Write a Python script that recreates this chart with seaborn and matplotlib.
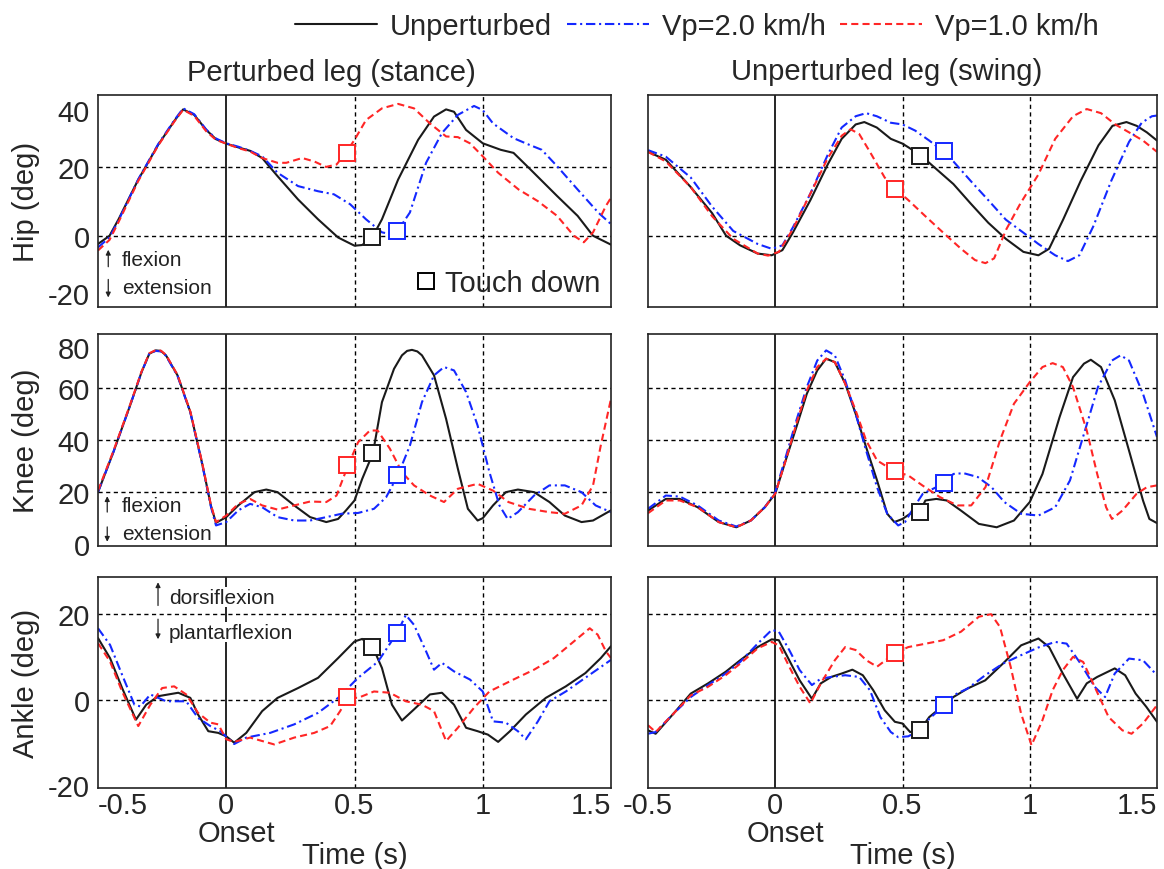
import numpy as np
import pandas as pd
import matplotlib
matplotlib.use("Agg")
import matplotlib.pyplot as plt
from matplotlib.lines import Line2D
from matplotlib import transforms
import seaborn as sns

# ---------------- data ----------------
CONDITIONS = ["Unperturbed", "Vp=2.0 km/h", "Vp=1.0 km/h"]
XTICKS = [-0.5, 0, 0.5, 1, 1.5]
XTICKLABELS = ["-0.5", "0", "0.5", "1", "1.5"]

# Hip, perturbed leg (stance)
HIP_ST_UNP_T = [-0.5, -0.455, -0.42, -0.343, -0.265, -0.2, -0.168, -0.125, -0.078, -0.04, 0, 0.047, 0.093, 0.14, 0.2, 0.28, 0.358, 0.436, 0.5, 0.53, 0.569, 0.607, 0.67, 0.748, 0.81, 0.857, 0.888, 0.935, 1.0, 1.07, 1.12, 1.18, 1.29, 1.37, 1.43, 1.5]
HIP_ST_UNP = [-2.4, 0, 4.8, 16.4, 26.6, 33.8, 36.9, 35.3, 30.9, 28.2, 26.9, 25.8, 24.8, 22.7, 17.4, 10.6, 4.8, -0.5, -2.9, -2.7, -0.5, 4.8, 16.4, 28, 34.8, 36.9, 36.2, 30.9, 27, 25.1, 24.2, 19.8, 11.6, 5.8, 0, -2.6]
HIP_ST_VP2_T = [-0.5, -0.455, -0.42, -0.343, -0.265, -0.2, -0.168, -0.125, -0.078, -0.04, 0, 0.047, 0.093, 0.14, 0.2, 0.28, 0.358, 0.42, 0.483, 0.545, 0.607, 0.64, 0.667, 0.716, 0.779, 0.841, 0.903, 0.966, 1.0, 1.04, 1.12, 1.18, 1.23, 1.29, 1.37, 1.45, 1.5]
HIP_ST_VP2 = [-3.4, -0.5, 4.5, 16.5, 26.8, 34, 37.2, 35.5, 31, 28.4, 27, 26, 24.8, 23.2, 18.4, 14.5, 13, 12.1, 9.2, 4.8, 1, 0.5, 1.3, 6.8, 21.3, 30, 35.3, 37.9, 36.7, 32.8, 28.5, 26.6, 25.1, 20.3, 13.5, 6.8, 3.4]
HIP_ST_VP1_T = [-0.5, -0.455, -0.42, -0.343, -0.265, -0.2, -0.168, -0.125, -0.078, -0.04, 0, 0.047, 0.093, 0.14, 0.2, 0.234, 0.296, 0.343, 0.389, 0.43, 0.467, 0.5, 0.545, 0.607, 0.67, 0.732, 0.794, 0.857, 0.903, 0.95, 1.0, 1.06, 1.14, 1.215, 1.29, 1.355, 1.394, 1.43, 1.48, 1.5]
HIP_ST_VP1 = [-4.3, -1.2, 4.0, 16, 26.4, 33.6, 36.8, 35, 30.5, 28, 26.9, 25.6, 24.6, 22.7, 21.3, 21.3, 22.7, 21.7, 20.1, 20.8, 24.3, 28, 33.8, 37.2, 38.5, 37.2, 32.8, 29, 28.8, 27, 23.2, 18.4, 13.5, 10.1, 5.8, 0, -1.9, 1, 8.7, 11.1]

# Hip, unperturbed leg (swing)
HIP_SW_UNP_T = [-0.5, -0.43, -0.332, -0.248, -0.193, -0.138, -0.069, -0.014, 0.028, 0.069, 0.138, 0.206, 0.261, 0.316, 0.35, 0.399, 0.454, 0.5, 0.53, 0.573, 0.631, 0.7, 0.768, 0.837, 0.906, 0.975, 1.034, 1.076, 1.131, 1.2, 1.27, 1.325, 1.38, 1.42, 1.46, 1.5]
HIP_SW_UNP = [24.5, 22.2, 14.2, 6.6, 0, -2.8, -5.2, -5.7, -4.2, 0.9, 10.4, 20.8, 28.3, 32.5, 33.2, 31.6, 28.3, 26.9, 25.5, 23.4, 19.6, 15.1, 9.4, 3.8, -0.9, -4.7, -5.7, -3.8, 4.7, 16, 26.4, 32.1, 33.2, 32.1, 30.2, 27.8]
HIP_SW_VP2_T = [-0.5, -0.43, -0.332, -0.248, -0.165, -0.069, -0.014, 0.028, 0.069, 0.138, 0.206, 0.261, 0.316, 0.357, 0.399, 0.454, 0.5, 0.55, 0.605, 0.658, 0.7, 0.768, 0.837, 0.906, 0.975, 1.034, 1.1, 1.15, 1.195, 1.25, 1.32, 1.39, 1.44, 1.48, 1.5]
HIP_SW_VP2 = [25, 23.1, 17, 8.5, 1.4, -2.4, -3.8, -2.8, 2.4, 12.3, 23.6, 31.6, 34.9, 35.8, 34.9, 33, 32.5, 30.7, 27.8, 24.8, 21.7, 16, 10.4, 4.7, 0.9, -2.4, -5.7, -7.4, -5.7, 2.8, 16, 27.4, 33, 34.9, 35.1]
HIP_SW_VP1_T = [-0.5, -0.43, -0.332, -0.248, -0.165, -0.069, -0.028, 0.014, 0.069, 0.138, 0.206, 0.261, 0.296, 0.33, 0.372, 0.43, 0.472, 0.523, 0.59, 0.66, 0.73, 0.785, 0.826, 0.86, 0.908, 0.963, 1.034, 1.1, 1.17, 1.224, 1.28, 1.336, 1.39, 1.445, 1.5]
HIP_SW_VP1 = [24.5, 21.7, 14.2, 5.7, -0.9, -5.2, -5.8, -4.7, 1.9, 12.3, 22.6, 29.2, 31.1, 29.7, 24.5, 17, 13.7, 10.4, 5.7, 0.9, -3.8, -7.1, -8, -6.6, 1.9, 9.4, 17.9, 28.3, 34.9, 37, 35.8, 32.5, 30.2, 27.8, 24.5]

# Knee, perturbed leg (stance)
KNEE_ST_UNP_T = [-0.5, -0.44, -0.375, -0.33, -0.3, -0.275, -0.255, -0.235, -0.19, -0.14, -0.095, -0.06, -0.04, 0, 0.047, 0.11, 0.156, 0.2, 0.265, 0.327, 0.39, 0.436, 0.467, 0.5, 0.53, 0.572, 0.607, 0.654, 0.685, 0.705, 0.724, 0.745, 0.763, 0.81, 0.857, 0.903, 0.942, 0.98, 1.0, 1.04, 1.09, 1.137, 1.2, 1.26, 1.32, 1.385, 1.43, 1.5]
KNEE_ST_UNP = [20, 35.4, 53.3, 66.2, 73.2, 74.5, 74.3, 72.6, 64.9, 50.8, 31.5, 14.9, 8.2, 10.4, 14.9, 20, 21, 20, 14.9, 10.4, 8.5, 9.7, 13, 16.8, 25.1, 35, 54.6, 67.4, 72.6, 74.3, 74.7, 74.1, 72.6, 64.9, 48.2, 29, 13.6, 9.1, 10, 14.9, 20, 21, 20, 16.2, 11, 8.5, 9.1, 13]
KNEE_ST_VP2_T = [-0.5, -0.44, -0.375, -0.33, -0.3, -0.275, -0.255, -0.235, -0.19, -0.14, -0.095, -0.06, -0.04, 0, 0.047, 0.093, 0.14, 0.2, 0.265, 0.327, 0.39, 0.45, 0.514, 0.576, 0.623, 0.67, 0.716, 0.763, 0.81, 0.849, 0.888, 0.935, 0.98, 1.026, 1.065, 1.097, 1.137, 1.2, 1.26, 1.32, 1.385, 1.44, 1.5]
KNEE_ST_VP2 = [20, 35.4, 53.3, 66.2, 73.2, 74.3, 74.1, 72.4, 64.7, 50.6, 31.3, 14.5, 7.2, 8.5, 13, 15.5, 14.2, 10.4, 9.1, 9.1, 10.4, 11.7, 12, 13.6, 18, 26.7, 37.9, 54.6, 64.9, 68.1, 66.8, 58.5, 45.6, 27.7, 14.9, 9.7, 12.3, 18.7, 22.6, 22.6, 20, 14.9, 12.3]
KNEE_ST_VP1_T = [-0.5, -0.44, -0.375, -0.33, -0.3, -0.275, -0.255, -0.235, -0.19, -0.14, -0.095, -0.06, -0.04, 0, 0.047, 0.093, 0.14, 0.2, 0.265, 0.327, 0.39, 0.43, 0.475, 0.514, 0.56, 0.59, 0.638, 0.685, 0.732, 0.794, 0.849, 0.903, 0.98, 1.04, 1.1, 1.18, 1.26, 1.32, 1.385, 1.43, 1.46, 1.5]
KNEE_ST_VP1 = [20.6, 35.8, 53.6, 66.4, 73.4, 74.6, 74.4, 72.8, 65.1, 51, 31.8, 15.2, 8.5, 11, 15.5, 17.4, 14.9, 13.3, 14.9, 16.4, 16.2, 18.7, 30.3, 39.2, 43.7, 43.7, 36.7, 27.7, 22.6, 18.7, 16.2, 21.3, 23.2, 20.6, 16.2, 13.6, 12.3, 11.7, 14.9, 22.6, 37.9, 55.9]

# Knee, unperturbed leg (swing)
KNEE_SW_UNP_T = [-0.5, -0.43, -0.375, -0.305, -0.222, -0.153, -0.096, -0.041, 0, 0.041, 0.083, 0.124, 0.165, 0.2, 0.234, 0.275, 0.316, 0.357, 0.4, 0.44, 0.468, 0.5, 0.53, 0.567, 0.59, 0.633, 0.674, 0.73, 0.8, 0.87, 0.938, 1.0, 1.05, 1.117, 1.17, 1.213, 1.24, 1.28, 1.334, 1.39, 1.445, 1.47, 1.5]
KNEE_SW_UNP = [12.9, 17.4, 17.4, 14.2, 8.5, 6.5, 9.1, 14.2, 19.4, 32.2, 45, 57.8, 66.8, 71.3, 70, 61.7, 50.1, 37.3, 24.5, 11.7, 8.5, 9.7, 11.7, 12.3, 16.8, 17.4, 16.8, 12.9, 7.8, 6.5, 9.1, 16.2, 27, 48.8, 64.2, 69.4, 70.9, 68.1, 55.3, 36, 16.8, 9.7, 8.1]
KNEE_SW_VP2_T = [-0.5, -0.43, -0.375, -0.305, -0.222, -0.153, -0.096, -0.041, 0, 0.041, 0.083, 0.124, 0.165, 0.2, 0.234, 0.275, 0.316, 0.357, 0.4, 0.44, 0.483, 0.51, 0.545, 0.58, 0.62, 0.665, 0.7, 0.74, 0.796, 0.85, 0.9, 0.966, 1.034, 1.1, 1.158, 1.213, 1.268, 1.323, 1.357, 1.39, 1.445, 1.5]
KNEE_SW_VP2 = [13.6, 18.7, 18.3, 14.9, 9.1, 6.8, 9.1, 14.2, 20, 33.5, 47.6, 60.4, 70.6, 74.5, 72.6, 62.9, 50.1, 36, 21.9, 11.7, 7.2, 8.5, 14.2, 19.4, 21.3, 23.5, 27, 27.3, 25.8, 21.9, 16.2, 11.7, 11, 14.2, 24.5, 42.4, 60.4, 70.6, 72.6, 70.6, 57.8, 41.2]
KNEE_SW_VP1_T = [-0.5, -0.43, -0.375, -0.305, -0.222, -0.153, -0.096, -0.041, 0, 0.041, 0.083, 0.124, 0.165, 0.2, 0.234, 0.275, 0.316, 0.357, 0.4, 0.467, 0.523, 0.578, 0.647, 0.716, 0.77, 0.826, 0.883, 0.938, 1.0, 1.05, 1.09, 1.13, 1.17, 1.224, 1.265, 1.3, 1.323, 1.364, 1.42, 1.46, 1.5]
KNEE_SW_VP1 = [11.9, 16.8, 16.8, 14.2, 8.5, 6.5, 9.1, 14.2, 19.4, 32.2, 46.3, 59.1, 68.1, 71.3, 70, 61.7, 51.4, 39.9, 32.2, 28.1, 26.4, 22.6, 18.1, 14.9, 14.9, 21.9, 39.9, 54, 62.3, 68.1, 69.6, 68.1, 60.4, 43.7, 27, 14.2, 9.7, 12.9, 19.4, 21.9, 22.6]

# Ankle, perturbed leg (stance)
ANK_ST_UNP_T = [-0.5, -0.453, -0.406, -0.352, -0.312, -0.265, -0.187, -0.14, -0.11, -0.07, -0.031, 0, 0.031, 0.078, 0.14, 0.2, 0.28, 0.358, 0.436, 0.5, 0.53, 0.572, 0.607, 0.646, 0.685, 0.732, 0.794, 0.841, 0.888, 0.935, 0.98, 1.02, 1.06, 1.106, 1.168, 1.246, 1.324, 1.4, 1.46, 1.5]
ANK_ST_UNP = [14.4, 9.7, 2.7, -4.7, -1.2, 0.8, 1.6, 0.4, -3.5, -7.4, -7.8, -8.6, -10.1, -7.8, -2.7, 0.4, 2.7, 5.1, 9.7, 13.6, 14.2, 12.2, 7.4, -1.2, -4.9, -2.3, 1.2, 1.6, -1.2, -6.6, -7.4, -8.2, -9.9, -7.4, -3.5, 0.4, 3.1, 6.2, 9.7, 12.5]
ANK_ST_VP2_T = [-0.5, -0.453, -0.406, -0.358, -0.335, -0.296, -0.234, -0.156, -0.11, -0.062, -0.023, 0.031, 0.078, 0.171, 0.265, 0.358, 0.436, 0.514, 0.592, 0.667, 0.7, 0.732, 0.779, 0.81, 0.841, 0.888, 0.95, 1.0, 1.04, 1.09, 1.137, 1.168, 1.215, 1.26, 1.324, 1.4, 1.5]
ANK_ST_VP2 = [16.7, 12.8, 5.8, -1.2, -1.6, 1.2, -0.4, -0.4, -4.3, -6.2, -7.4, -10.4, -8.9, -7.8, -5.8, -3.1, 0.4, 5.1, 8.9, 15.7, 19.8, 17.5, 11.3, 7, 8.6, 6.6, 4.7, 1.9, -5.1, -5.4, -7.4, -9.3, -5.1, -0.4, 1.9, 5.1, 9.3]
ANK_ST_VP1_T = [-0.5, -0.453, -0.406, -0.343, -0.296, -0.25, -0.203, -0.156, -0.11, -0.062, -0.031, 0, 0.031, 0.093, 0.187, 0.265, 0.343, 0.405, 0.444, 0.475, 0.514, 0.576, 0.638, 0.7, 0.763, 0.81, 0.857, 0.903, 0.966, 1.026, 1.12, 1.2, 1.277, 1.355, 1.417, 1.448, 1.48, 1.5]
ANK_ST_VP1 = [13.2, 8.9, 1.9, -6.2, -1.2, 2.7, 3.1, 1.2, -3.1, -5.4, -5.8, -9.3, -9.9, -8.9, -10.5, -8.9, -7.8, -6.2, -2.7, 0.5, 0.4, 1.9, 1.6, -0.4, -1.2, -2.7, -9.7, -6.6, -1.9, 1.9, 4.7, 7, 9.7, 13.6, 16.7, 15.2, 11.3, 9.7]

# Ankle, unperturbed leg (swing)
ANK_SW_UNP_T = [-0.5, -0.47, -0.4, -0.332, -0.264, -0.195, -0.138, -0.069, -0.014, 0.014, 0.055, 0.096, 0.144, 0.179, 0.22, 0.261, 0.303, 0.344, 0.385, 0.43, 0.47, 0.5, 0.53, 0.568, 0.605, 0.646, 0.7, 0.756, 0.825, 0.894, 0.966, 1.034, 1.076, 1.13, 1.186, 1.224, 1.265, 1.334, 1.375, 1.416, 1.458, 1.5]
ANK_SW_UNP = [-7.2, -8, -3.3, 1.4, 3.8, 6.5, 9.2, 12.3, 14.1, 13.9, 9.2, 4.5, 0.2, 3.8, 5.3, 6.1, 7, 5.7, 2.2, -2.5, -5.2, -5.6, -7.6, -7.2, -4.1, -2.1, 0.6, 2.6, 4.5, 8.4, 12.7, 14.3, 12.3, 6.1, 0.2, 3.8, 5.3, 7.3, 5.7, 1.4, -1.7, -5.2]
ANK_SW_VP2_T = [-0.5, -0.47, -0.4, -0.332, -0.264, -0.195, -0.138, -0.069, -0.014, 0.014, 0.055, 0.096, 0.144, 0.179, 0.22, 0.275, 0.33, 0.372, 0.413, 0.454, 0.483, 0.523, 0.564, 0.605, 0.667, 0.7, 0.756, 0.825, 0.894, 0.966, 1.034, 1.1, 1.145, 1.2, 1.255, 1.296, 1.334, 1.39, 1.445, 1.5]
ANK_SW_VP2 = [-8, -7.6, -3.3, 0.6, 3.4, 6.1, 8.8, 13.1, 16.3, 15.9, 11.6, 6.9, 3.4, 4.9, 5.3, 5.7, 5.3, 2.2, -4.1, -7.6, -8.8, -8.6, -7.2, -4.5, -1.2, 1, 2.6, 5.7, 8.4, 10.4, 12.2, 13.5, 13.1, 8.4, 3, 0.6, 6.1, 9.6, 9.2, 5.7]
ANK_SW_VP1_T = [-0.5, -0.47, -0.4, -0.332, -0.264, -0.195, -0.138, -0.069, -0.014, 0.014, 0.055, 0.096, 0.138, 0.179, 0.234, 0.275, 0.316, 0.358, 0.4, 0.471, 0.523, 0.592, 0.66, 0.73, 0.8, 0.848, 0.883, 0.925, 0.966, 1.007, 1.05, 1.09, 1.13, 1.17, 1.21, 1.255, 1.31, 1.364, 1.4, 1.445, 1.5]
ANK_SW_VP1 = [-6, -7.6, -3.3, 1, 3, 5.7, 8.4, 12, 13.5, 12.7, 7.7, 3, -0.9, 3.8, 9.2, 12.3, 11.6, 9.2, 7.7, 10.9, 12.3, 13.1, 13.9, 15.9, 19.4, 20, 17, 7.7, -3.3, -10.7, -4.8, 2.2, 6.9, 10, 8.8, 3, -4.1, -7.2, -8, -5.6, -1.3]

# touch-down instants (s) per condition and joint angles at touch-down per panel
TD_TIME = [0.57, 0.665, 0.47]
TD_HIP_ST = [-0.5, 1.3, 24.3]
TD_HIP_SW = [23.4, 24.8, 13.7]
TD_KNEE_ST = [35, 26.7, 30.3]
TD_KNEE_SW = [12.3, 23.5, 28.1]
TD_ANK_ST = [12.2, 15.7, 0.5]
TD_ANK_SW = [-7.2, -1.2, 10.9]

HIP_YTICKS = [-20, 0, 20, 40]
KNEE_YTICKS = [0, 20, 40, 60, 80]
ANK_YTICKS = [-20, 0, 20]

# ---------------- style ----------------
sns.set_theme(style="white")
plt.rcParams["font.family"] = ["Liberation Sans", "DejaVu Sans"]
plt.rcParams["axes.unicode_minus"] = False
plt.rcParams["axes.linewidth"] = 1.2
plt.rcParams["axes.edgecolor"] = "#222222"

PALETTE = {"Unperturbed": "#1a1a1a", "Vp=2.0 km/h": "#1428ff", "Vp=1.0 km/h": "#ff2626"}
DASHES = {"Unperturbed": "", "Vp=2.0 km/h": (4.5, 1.8, 1.0, 1.8), "Vp=1.0 km/h": (3.4, 2.0)}
FS = 21

def make_df(series):
    rows = []
    for cond, (t, v) in zip(CONDITIONS, series):
        for ti, vi in zip(t, v):
            rows.append({"cond": cond, "t": ti, "angle": vi})
    return pd.DataFrame(rows)

panels = [
    (0, 0, [(HIP_ST_UNP_T, HIP_ST_UNP), (HIP_ST_VP2_T, HIP_ST_VP2), (HIP_ST_VP1_T, HIP_ST_VP1)], TD_HIP_ST, (-20.8, 41.1), HIP_YTICKS, [0, 20]),
    (0, 1, [(HIP_SW_UNP_T, HIP_SW_UNP), (HIP_SW_VP2_T, HIP_SW_VP2), (HIP_SW_VP1_T, HIP_SW_VP1)], TD_HIP_SW, (-20.8, 41.1), HIP_YTICKS, [0, 20]),
    (1, 0, [(KNEE_ST_UNP_T, KNEE_ST_UNP), (KNEE_ST_VP2_T, KNEE_ST_VP2), (KNEE_ST_VP1_T, KNEE_ST_VP1)], TD_KNEE_ST, (-0.7, 80.8), KNEE_YTICKS, [20, 40, 60]),
    (1, 1, [(KNEE_SW_UNP_T, KNEE_SW_UNP), (KNEE_SW_VP2_T, KNEE_SW_VP2), (KNEE_SW_VP1_T, KNEE_SW_VP1)], TD_KNEE_SW, (-0.7, 80.8), KNEE_YTICKS, [20, 40, 60]),
    (2, 0, [(ANK_ST_UNP_T, ANK_ST_UNP), (ANK_ST_VP2_T, ANK_ST_VP2), (ANK_ST_VP1_T, ANK_ST_VP1)], TD_ANK_ST, (-20.7, 28.7), ANK_YTICKS, [0, 20]),
    (2, 1, [(ANK_SW_UNP_T, ANK_SW_UNP), (ANK_SW_VP2_T, ANK_SW_VP2), (ANK_SW_VP1_T, ANK_SW_VP1)], TD_ANK_SW, (-20.7, 28.7), ANK_YTICKS, [0, 20]),
]

W, H = 1164, 870
fig = plt.figure(figsize=(W / 100, H / 100), dpi=100)
col_x = [(98, 513), (648, 509)]
row_y = [(96, 308), (335, 547), (578, 789)]
ylabels = ["Hip (deg)", "Knee (deg)", "Ankle (deg)"]

axes = {}
for (r, c, series, td, ylim, yticks, hgrid) in panels:
    x0, w = col_x[c]
    top, bot = row_y[r]
    ax = fig.add_axes([x0 / W, 1 - bot / H, w / W, (bot - top) / H])
    axes[(r, c)] = ax
    df = make_df(series)
    for gy in hgrid:
        ax.axhline(gy, color="black", lw=1.0, ls=(0, (3, 2.5)), zorder=1)
    ax.axvline(0, color="black", lw=1.2, zorder=1)
    for gx in (0.5, 1.0):
        ax.axvline(gx, color="black", lw=1.0, ls=(0, (3, 2.5)), zorder=1)
    sns.lineplot(data=df, x="t", y="angle", hue="cond", style="cond",
                 hue_order=CONDITIONS, style_order=CONDITIONS,
                 palette=PALETTE, dashes=DASHES, estimator=None, sort=False,
                 legend=False, linewidth=1.5, ax=ax, zorder=3)
    for cond, tt, vv in zip(CONDITIONS, TD_TIME, td):
        ax.plot([tt], [vv], marker="s", ms=11.5, mfc="white", mec=PALETTE[cond],
                mew=1.4, ls="none", zorder=5)
    ax.set_xlim(-0.5, 1.5)
    ax.set_ylim(*ylim)
    ax.set_xticks(XTICKS)
    ax.set_yticks(yticks)
    ax.set_xlabel("")
    ax.set_ylabel("")
    ax.tick_params(axis="y", length=0, labelsize=FS, pad=6)
    ax.tick_params(axis="x", length=0, labelsize=FS, pad=2.5)
    if r < 2:
        ax.set_xticklabels([])
    else:
        ax.set_xticklabels(XTICKLABELS)
        labs = ax.get_xticklabels()
        if c == 0:
            labs[0].set_ha("left")
        labs[-1].set_ha("right")
        ax.set_xlabel("Time (s)", fontsize=FS)
        ax.xaxis.set_label_coords(0.5, -0.25)
        trans = transforms.blended_transform_factory(ax.transData, ax.transAxes)
        ax.text(0.04, -0.145, "Onset", transform=trans, ha="center", va="top", fontsize=FS)
    if c == 1:
        ax.set_yticklabels([])
    else:
        ax.set_ylabel(ylabels[r], fontsize=FS)
        ax.yaxis.set_label_coords(-0.113, 0.5)
    for s in ax.spines.values():
        s.set_visible(True)
        s.set_color("#222222")
        s.set_linewidth(1.2)
        s.set_zorder(6)

# edge tick label adjustments
ylabs = axes[(0, 0)].get_yticklabels()
ylabs[-1].set_va("top")
ylabs[0].set_va("baseline")
klabs = axes[(1, 0)].get_yticklabels()
klabs[-1].set_va("top")

# direction annotations
def dir_note(ax, ax_x, txt_x, up_arrow, up_y, down_arrow, down_y, up_txt, down_txt, bg=False):
    ap = dict(arrowstyle="-|>", lw=0.9, color="#222222", mutation_scale=7, shrinkA=0, shrinkB=0)
    ax.annotate("", xy=(ax_x, up_arrow[1]), xytext=(ax_x, up_arrow[0]), xycoords="axes fraction", arrowprops=ap, zorder=7)
    ax.annotate("", xy=(ax_x, down_arrow[1]), xytext=(ax_x, down_arrow[0]), xycoords="axes fraction", arrowprops=ap, zorder=7)
    bbox = dict(facecolor="white", edgecolor="none", pad=0.5) if bg else None
    ax.text(txt_x, up_y, up_txt, transform=ax.transAxes, fontsize=15, va="center", ha="left", color="#222222", bbox=bbox, zorder=7)
    ax.text(txt_x, down_y, down_txt, transform=ax.transAxes, fontsize=15, va="center", ha="left", color="#222222", bbox=bbox, zorder=7)

dir_note(axes[(0, 0)], 0.02, 0.047, (0.19, 0.27), 0.222, (0.13, 0.045), 0.09, "flexion", "extension")
dir_note(axes[(1, 0)], 0.018, 0.047, (0.16, 0.235), 0.19, (0.09, 0.02), 0.057, "flexion", "extension")
dir_note(axes[(2, 0)], 0.117, 0.138, (0.865, 0.975), 0.905, (0.80, 0.705), 0.739, "dorsiflexion", "plantarflexion", bg=True)

# touch-down key
td_handle = Line2D([], [], marker="s", ms=11.5, mfc="white", mec="black", mew=1.4, ls="none")
axes[(0, 0)].legend([td_handle], ["Touch down"], loc="lower right", frameon=False, fontsize=FS,
                    handlelength=0.8, handletextpad=0.25, borderaxespad=0.15, borderpad=0.2)

# column titles
fig.text(331 / W, 1 - 73 / H, "Perturbed leg (stance)", ha="center", va="center", fontsize=FS)
fig.text(887 / W, 1 - 72 / H, "Unperturbed leg (swing)", ha="center", va="center", fontsize=FS)

# top legend
handles = []
for c in CONDITIONS:
    h = Line2D([], [], color=PALETTE[c], lw=1.5)
    if DASHES[c]:
        h.set_dashes(DASHES[c])
    handles.append(h)
fig.legend(handles, CONDITIONS, loc="center", bbox_to_anchor=(697 / W, 1 - 27 / H), ncol=3,
           frameon=False, fontsize=FS, handlelength=2.8, handletextpad=0.45, columnspacing=0.5)

fig.savefig("out.png", dpi=100)
